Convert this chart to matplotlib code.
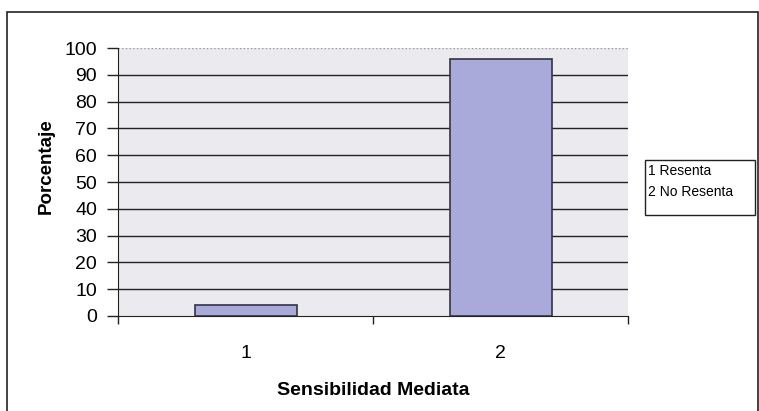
import matplotlib
matplotlib.use("Agg")
import matplotlib.pyplot as plt
from matplotlib.patches import Rectangle

categories = ["1", "2"]
values = [4, 96]
legend_labels = ["1 Resenta", "2 No Resenta"]
y_ticks = [0, 10, 20, 30, 40, 50, 60, 70, 80, 90, 100]
x_label = "Sensibilidad Mediata"
y_label = "Porcentaje"

plt.rcParams['font.family'] = ['Liberation Sans', 'DejaVu Sans']

W, H = 759, 411
fig = plt.figure(figsize=(W/100, H/100), dpi=100)
fig.patch.set_facecolor('white')

# outer border
fig.patches.append(Rectangle((7/W, -0.01), (W-8)/W, 1 - 12/H + 0.01, transform=fig.transFigure,
                             fill=False, edgecolor='#222222', linewidth=1.2))

ax = fig.add_axes([118/W, 1-316/H, (628-118)/W, (316-48)/H])
ax.set_facecolor('#EBEBEF')
pos = list(range(1, len(categories)+1))
ax.bar(pos, values, width=0.4, color='#A9A9DA', edgecolor='#333344', linewidth=1.2, zorder=3)
ax.set_xlim(0.5, len(categories)+0.5)
ax.set_ylim(0, 100)
ax.set_yticks(y_ticks)
ax.set_yticklabels([str(t) for t in y_ticks], fontsize=14)
for t in y_ticks[1:-1]:
    ax.axhline(t, color='#222222', linewidth=1.0, zorder=1)
ax.axhline(100, color='#999999', linewidth=1.0, linestyle=':', zorder=1)

ax.set_xticks([p - 0.5 for p in pos] + [pos[-1] + 0.5])
ax.set_xticklabels([])
ax.set_xticks(pos, minor=True)
ax.set_xticklabels(categories, minor=True, fontsize=14)
ax.tick_params(axis='x', which='minor', length=0, pad=21)
ax.tick_params(axis='x', which='major', length=6, width=1, color='#222222')
ax.tick_params(axis='y', length=8, width=1, color='#222222', pad=7)

for s in ['top', 'right']:
    ax.spines[s].set_visible(False)
ax.spines['left'].set_color('#222222')
ax.spines['bottom'].set_color('#222222')

ax.set_xlabel(x_label, fontsize=14, fontweight='bold', labelpad=14)
ax.set_ylabel(y_label, fontsize=13.5, fontweight='bold')
ax.yaxis.set_label_coords(-0.125, 0.56)

# legend box
lx0, ly0, lx1, ly1 = 645, 160, 755, 215
fig.patches.append(Rectangle((lx0/W, 1-ly1/H), (lx1-lx0)/W, (ly1-ly0)/H, transform=fig.transFigure,
                             fill=False, edgecolor='#222222', linewidth=1.0))
for i, lab in enumerate(legend_labels):
    fig.text((lx0+3)/W, 1-(ly0+11+i*21)/H, lab, fontsize=10, va='center', ha='left')

fig.savefig("out.png", dpi=100)
